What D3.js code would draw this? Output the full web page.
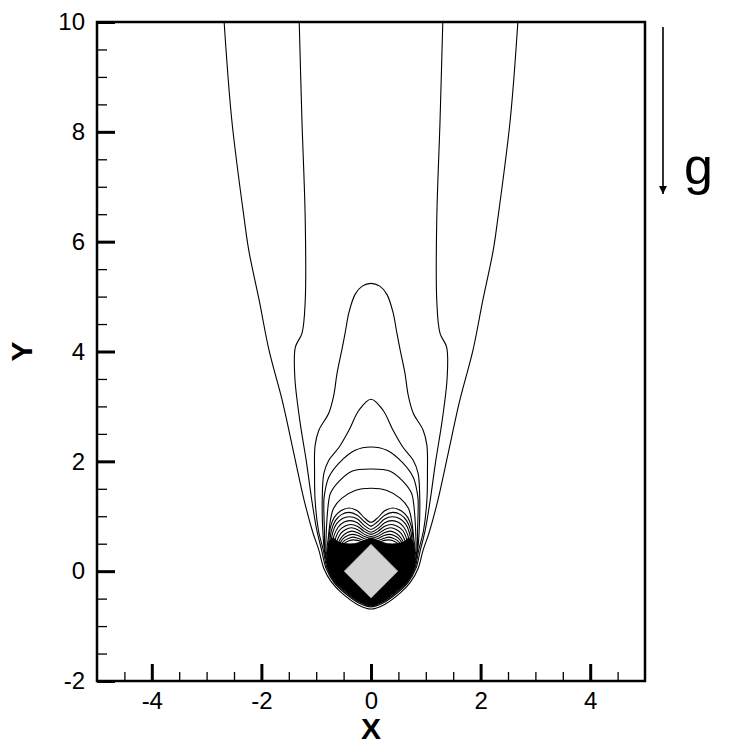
<!DOCTYPE html>
<html>
<head>
<meta charset="utf-8">
<script src="https://cdn.jsdelivr.net/npm/d3@7"></script>
<style>
  html, body { margin: 0; padding: 0; background: #fff; }
  svg text { font-family: "Liberation Sans", Arial, sans-serif; }
</style>
</head>
<body>
<svg id="chart" width="748" height="748"></svg>
<script>
// ---------------- data ----------------
const xDomain = [-5, 5];
const yDomain = [-2, 10];
const xTickValues = [-4, -2, 0, 2, 4];
const yTickValues = [-2, 0, 2, 4, 6, 8, 10];
const xMinorTicks = [-4.5, -3.5, -3, -2.5, -1.5, -1, -0.5, 0.5, 1, 1.5, 2.5, 3, 3.5, 4.5];
const yMinorTicks = [-1.5, -1, -0.5, 0.5, 1, 1.5, 2.5, 3, 3.5, 4.5, 5, 5.5, 6.5, 7, 7.5, 8.5, 9, 9.5];
const xLabel = "X";
const yLabel = "Y";
const gravityLabel = "g";

// body: diamond (square rotated 45 degrees)
const body = [[0, 0.49], [0.49, 0], [0, -0.49], [-0.49, 0]];

// right halves of contour lines (symmetric about x = 0), [x, y]
// open contours reaching the top edge
const contourL1 = [[2.68,10],[2.54,8.21],[2.31,6.39],[2.23,5.84],[2.04,4.93],[1.86,4.02],[1.62,3.11],[1.42,2.2],[1.22,1.29],[1.06,0.7],[0.95,0.38],[0.86,0.05],[0.72,-0.2],[0.53,-0.4],[0.24,-0.61],[0,-0.69]];
const contourL2 = [[1.31,10],[1.26,8.21],[1.2,6.39],[1.2,4.93],[1.26,4.33],[1.38,4.08],[1.39,3.53],[1.3,2.75],[1.18,2.0],[1.08,1.29],[0.99,0.75],[0.9,0.38],[0.82,0.05],[0.68,-0.2],[0.5,-0.38],[0.22,-0.58],[0,-0.65]];
// closed contours around the body
const contourL3 = [[0,5.24],[0.16,5.19],[0.29,5.04],[0.4,4.72],[0.47,4.35],[0.53,4.04],[0.62,3.6],[0.68,3.2],[0.77,2.88],[0.95,2.57],[1.02,2.29],[1.03,1.8],[1.02,1.29],[0.96,0.75],[0.87,0.38],[0.8,0.05],[0.66,-0.2],[0.48,-0.37],[0.21,-0.56],[0,-0.63]];
const contourL4 = [[0,3.13],[0.22,2.93],[0.4,2.57],[0.58,2.26],[0.77,2.02],[0.86,1.78],[0.89,1.29],[0.88,0.75],[0.85,0.38],[0.78,0.05],[0.64,-0.2],[0.46,-0.36],[0.2,-0.55],[0,-0.62]];
const contourL5 = [[0,2.26],[0.29,2.2],[0.58,1.97],[0.77,1.71],[0.84,1.45],[0.86,1.29],[0.85,0.75],[0.84,0.38],[0.76,0.05],[0.6,-0.2],[0.42,-0.35],[0.18,-0.52],[0,-0.58]];
const contourL6 = [[0,1.86],[0.35,1.82],[0.58,1.64],[0.74,1.42],[0.77,1.29],[0.8,1.0],[0.82,0.6],[0.82,0.38],[0.74,0.05],[0.58,-0.2],[0.4,-0.35],[0.17,-0.51],[0,-0.57]];
const contourL7 = [[0,1.51],[0.29,1.47],[0.53,1.33],[0.68,1.15],[0.74,0.93],[0.78,0.6],[0.8,0.38],[0.72,0.05],[0.56,-0.2],[0.38,-0.35],[0.16,-0.5],[0,-0.56]];
// dense "two-lobe" contours above the body
const contourM1 = [[0,0.89],[0.12,0.97],[0.25,1.1],[0.4,1.15],[0.55,1.1],[0.67,0.98],[0.74,0.8],[0.77,0.5],[0.76,0.3],[0.7,0.05],[0.54,-0.2],[0.36,-0.34],[0.15,-0.49],[0,-0.55]];
const contourM2 = [[0,0.82],[0.12,0.9],[0.25,1.02],[0.4,1.07],[0.54,1.03],[0.65,0.92],[0.72,0.75],[0.75,0.5],[0.74,0.3],[0.68,0.05],[0.53,-0.2],[0.35,-0.34],[0.15,-0.49],[0,-0.55]];
const contourM3 = [[0,0.76],[0.12,0.83],[0.25,0.95],[0.39,0.99],[0.52,0.96],[0.63,0.86],[0.7,0.7],[0.73,0.5],[0.72,0.3],[0.66,0.05],[0.52,-0.2],[0.34,-0.33],[0.15,-0.48],[0,-0.54]];
const contourM4 = [[0,0.71],[0.12,0.77],[0.25,0.88],[0.38,0.92],[0.5,0.89],[0.6,0.8],[0.67,0.66],[0.71,0.48],[0.7,0.25],[0.64,0.05],[0.5,-0.19],[0.33,-0.33],[0.14,-0.48],[0,-0.54]];
const contourM5 = [[0,0.67],[0.12,0.72],[0.25,0.82],[0.37,0.85],[0.48,0.82],[0.58,0.74],[0.64,0.62],[0.68,0.46],[0.68,0.22],[0.62,0.04],[0.48,-0.18],[0.32,-0.32],[0.14,-0.47],[0,-0.53]];
const contourM6 = [[0,0.63],[0.12,0.67],[0.25,0.76],[0.36,0.79],[0.46,0.76],[0.55,0.69],[0.61,0.58],[0.65,0.45],[0.66,0.2],[0.6,0.03],[0.47,-0.17],[0.31,-0.31],[0.13,-0.47],[0,-0.53]];
const contourM7 = [[0,0.6],[0.12,0.63],[0.24,0.7],[0.35,0.73],[0.44,0.7],[0.52,0.64],[0.58,0.55],[0.62,0.44],[0.63,0.2],[0.58,0.02],[0.45,-0.16],[0.3,-0.3],[0.13,-0.46],[0,-0.52]];
const contourM8 = [[0,0.57],[0.12,0.59],[0.24,0.65],[0.34,0.67],[0.42,0.65],[0.5,0.6],[0.56,0.52],[0.6,0.42],[0.61,0.2],[0.56,0.02],[0.44,-0.15],[0.29,-0.29],[0.12,-0.45],[0,-0.52]];
const contourM9 = [[0,0.55],[0.13,0.56],[0.24,0.6],[0.33,0.62],[0.4,0.6],[0.48,0.56],[0.54,0.49],[0.58,0.4],[0.59,0.2],[0.54,0.02],[0.43,-0.14],[0.28,-0.28],[0.12,-0.44],[0,-0.51]];
const contourM10 = [[0,0.53],[0.14,0.53],[0.24,0.56],[0.32,0.57],[0.39,0.56],[0.47,0.52],[0.53,0.46],[0.57,0.38],[0.57,0.2],[0.52,0.02],[0.42,-0.13],[0.27,-0.27],[0.12,-0.43],[0,-0.51]];

// very dense contour band around the body (appears solid black)
const denseBand = [[0,0.6],[0.13,0.55],[0.3,0.5],[0.47,0.5],[0.6,0.53],[0.69,0.6],[0.75,0.56],[0.79,0.4],[0.8,0.2],[0.77,0.0],[0.64,-0.2],[0.46,-0.36],[0.2,-0.55],[0,-0.62]];

// ---------------- drawing ----------------
const W = 748, H = 748;
const plot = { left: 97, right: 645, top: 22, bottom: 681 };
const svg = d3.select("#chart");
svg.append("rect").attr("width", W).attr("height", H).attr("fill", "#fff");

const x = d3.scaleLinear().domain(xDomain).range([plot.left, plot.right]);
const y = d3.scaleLinear().domain(yDomain).range([plot.bottom, plot.top]);

svg.append("clipPath").attr("id", "clip")
  .append("rect").attr("x", plot.left).attr("y", plot.top)
  .attr("width", plot.right - plot.left).attr("height", plot.bottom - plot.top);

const g = svg.append("g").attr("clip-path", "url(#clip)");

// mirror helpers (the field is symmetric about x = 0)
function closedLoop(half) {
  const left = half.slice(1, half.length - 1).reverse().map(p => [-p[0], p[1]]);
  return half.concat(left);
}
function openFull(half) {
  const left = half.slice(0, half.length - 1).map(p => [-p[0], p[1]]).reverse();
  return half.concat(left);
}

const lineOpen = d3.line().x(d => x(d[0])).y(d => y(d[1])).curve(d3.curveCatmullRom.alpha(0.5));
const lineClosed = d3.line().x(d => x(d[0])).y(d => y(d[1])).curve(d3.curveCatmullRomClosed.alpha(0.5));
const lineLinearClosed = d3.line().x(d => x(d[0])).y(d => y(d[1])).curve(d3.curveLinearClosed);

// dense black band
g.append("path")
  .attr("d", lineClosed(closedLoop(denseBand)))
  .attr("fill", "#000").attr("stroke", "#000").attr("stroke-width", 1);

// open contours
[contourL1, contourL2].forEach(half => {
  g.append("path").attr("d", lineOpen(openFull(half)))
    .attr("fill", "none").attr("stroke", "#000").attr("stroke-width", 1.1);
});

// closed contours
[contourL3, contourL4, contourL5, contourL6, contourL7,
 contourM1, contourM2, contourM3, contourM4, contourM5,
 contourM6, contourM7, contourM8, contourM9, contourM10].forEach(half => {
  g.append("path").attr("d", lineClosed(closedLoop(half)))
    .attr("fill", "none").attr("stroke", "#000").attr("stroke-width", 1.1);
});

// body
g.append("path").attr("d", lineLinearClosed(body))
  .attr("fill", "#d3d3d3").attr("stroke", "#9a9a9a").attr("stroke-width", 0.8);

// axes (ticks pointing inward)
const axisG = svg.append("g");
const xMajor = d3.axisBottom(x).tickValues(xTickValues).tickSize(-17).tickPadding(11).tickFormat(d3.format("d"));
const xMinor = d3.axisBottom(x).tickValues(xMinorTicks).tickSize(-9).tickFormat("");
const yMajor = d3.axisLeft(y).tickValues(yTickValues).tickSize(-18).tickPadding(12).tickFormat(d3.format("d"));
const yMinor = d3.axisLeft(y).tickValues(yMinorTicks).tickSize(-10).tickFormat("");

function styleAxis(sel, w) {
  sel.select(".domain").remove();
  sel.selectAll(".tick line").attr("stroke", "#000").attr("stroke-width", w);
  sel.selectAll(".tick text").attr("fill", "#000").attr("font-size", 24)
    .attr("font-family", "'Liberation Sans', Arial, sans-serif");
}
axisG.append("g").attr("transform", `translate(0,${plot.bottom})`).call(xMinor).call(s => styleAxis(s, 1.3));
axisG.append("g").attr("transform", `translate(0,${plot.bottom})`).call(xMajor).call(s => styleAxis(s, 3));
axisG.append("g").attr("transform", `translate(${plot.left},0)`).call(yMinor).call(s => styleAxis(s, 1.3));
axisG.append("g").attr("transform", `translate(${plot.left},0)`).call(yMajor).call(s => styleAxis(s, 3));
axisG.selectAll(".tick text").text(function() { return this.textContent.replace("\u2212", "-"); });

// frame
svg.append("rect")
  .attr("x", plot.left).attr("y", plot.top)
  .attr("width", plot.right - plot.left).attr("height", plot.bottom - plot.top)
  .attr("fill", "none").attr("stroke", "#000").attr("stroke-width", 2.5);

// axis titles
svg.append("text").attr("x", x(0)).attr("y", 739)
  .attr("text-anchor", "middle").attr("font-size", 30).attr("font-weight", "bold")
  .text(xLabel);
svg.append("text")
  .attr("transform", `translate(32,${(plot.top + plot.bottom) / 2}) rotate(-90)`)
  .attr("text-anchor", "middle").attr("font-size", 30).attr("font-weight", "bold")
  .text(yLabel);

// gravity arrow
svg.append("defs").append("marker")
  .attr("id", "arrowhead").attr("viewBox", "0 0 10 10")
  .attr("refX", 10).attr("refY", 5)
  .attr("markerWidth", 8).attr("markerHeight", 8).attr("markerUnits", "userSpaceOnUse")
  .attr("orient", "auto")
  .append("path").attr("d", "M0,0 L10,5 L0,10 Z").attr("fill", "#000");
svg.append("line")
  .attr("x1", 663).attr("y1", 27).attr("x2", 663).attr("y2", 194)
  .attr("stroke", "#000").attr("stroke-width", 1.6)
  .attr("marker-end", "url(#arrowhead)");
svg.append("text").attr("x", 684).attr("y", 184)
  .attr("font-size", 52).attr("fill", "#000").text(gravityLabel);
</script>
</body>
</html>
